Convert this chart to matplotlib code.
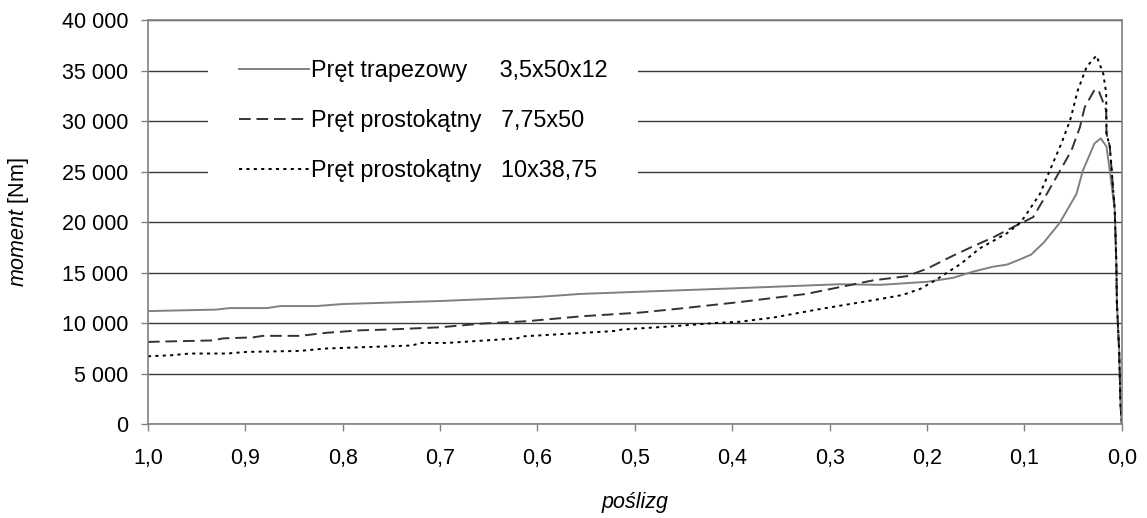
import numpy as np
import matplotlib
matplotlib.use('Agg')
import matplotlib.pyplot as plt
from matplotlib.ticker import FuncFormatter

plt.rcParams['font.family'] = ['Liberation Sans', 'DejaVu Sans']
plt.rcParams['mathtext.fontset'] = 'custom'
plt.rcParams['mathtext.it'] = 'Liberation Sans:italic'
plt.rcParams['mathtext.rm'] = 'Liberation Sans'

# dane (poślizg, moment w Nm)
s_trap = [1.0, 0.93, 0.916, 0.878, 0.864, 0.827, 0.80, 0.70, 0.60, 0.556, 0.50, 0.40,
          0.29, 0.248, 0.20, 0.173, 0.153, 0.132, 0.118, 0.105, 0.093, 0.08, 0.064,
          0.0465, 0.040, 0.028, 0.0216, 0.0157, 0.0123, 0.0072, 0.0055, 0.005,
          0.0027, 0.0013, 0.0]
m_trap = [11200, 11350, 11500, 11500, 11700, 11700, 11900, 12200, 12600, 12900, 13100,
          13450, 13860, 13800, 14100, 14500, 15100, 15600, 15800, 16300, 16800, 18000,
          19900, 22800, 25100, 27800, 28300, 27500, 25100, 21200, 15600, 12000, 7300,
          2000, 0]

s_prost1 = [1.0, 0.933, 0.923, 0.892, 0.882, 0.844, 0.817, 0.782, 0.755, 0.70, 0.656,
            0.611, 0.553, 0.495, 0.454, 0.392, 0.324, 0.255, 0.221, 0.20, 0.173, 0.153,
            0.132, 0.112, 0.091, 0.077, 0.064, 0.0517, 0.043, 0.038, 0.028, 0.024,
            0.016, 0.0157, 0.0123, 0.0072, 0.0055, 0.005, 0.0027, 0.0013, 0.0]
m_prost1 = [8150, 8300, 8500, 8600, 8750, 8750, 9050, 9300, 9370, 9600, 9970, 10200,
            10700, 11050, 11450, 12100, 12900, 14250, 14650, 15400, 16700, 17600, 18500,
            19500, 20500, 22800, 25000, 27100, 29400, 31400, 33100, 33100, 31100, 28800,
            27500, 21200, 15600, 12000, 7300, 2000, 0]

s_prost2 = [1.0, 0.976, 0.957, 0.919, 0.899, 0.844, 0.817, 0.728, 0.721, 0.693, 0.621,
            0.615, 0.519, 0.514, 0.461, 0.416, 0.392, 0.358, 0.313, 0.279, 0.248, 0.225,
            0.207, 0.194, 0.165, 0.146, 0.118, 0.105, 0.10, 0.084, 0.074, 0.062, 0.053,
            0.045, 0.036, 0.026, 0.019, 0.016, 0.0157, 0.0123, 0.0072, 0.0055, 0.005,
            0.0027, 0.0013, 0.0]
m_prost2 = [6730, 6830, 7000, 7000, 7160, 7260, 7500, 7800, 8050, 8050, 8500, 8700,
            9240, 9370, 9700, 10030, 10150, 10560, 11350, 11900, 12400, 12800, 13400,
            14100, 15900, 17400, 18900, 19900, 20500, 22800, 25100, 27800, 30100, 33100,
            35400, 36500, 34700, 32800, 28800, 27500, 21200, 15600, 12000, 7300, 2000, 0]

labels = ['Pręt trapezowy     3,5x50x12',
          'Pręt prostokątny   7,75x50',
          'Pręt prostokątny   10x38,75']

fs = 15.5

fig = plt.figure(figsize=(11.47, 5.18), dpi=100)
ax = fig.add_axes([0.129, 0.181, 0.849, 0.780])

ax.plot(s_trap, m_trap, color='#808080', lw=1.4, label=labels[0])
ax.plot(s_prost1, m_prost1, color='#333333', lw=1.4, dashes=(6, 3), label=labels[1])
ax.plot(s_prost2, m_prost2, color='black', lw=1.4, dashes=(1.6, 2.2), label=labels[2])

ax.set_xlim(1.0, 0.0)
ax.set_ylim(0, 40000)
ax.set_xticks(np.arange(0, 1.01, 0.1))
ax.set_yticks(np.arange(0, 40001, 5000))
ax.xaxis.set_major_formatter(FuncFormatter(lambda v, p: f'{v:.1f}'.replace('.', ',')))
ax.yaxis.set_major_formatter(FuncFormatter(lambda v, p: f'{int(v):,}'.replace(',', ' ')))

ax.grid(axis='y', color='#3a3a3a', lw=1.0)
ax.set_axisbelow(True)
for sp in ax.spines.values():
    sp.set_color('#808080')
    sp.set_linewidth(1.2)
ax.tick_params(colors='#808080', labelcolor='black', labelsize=fs, length=5, width=1)
ax.tick_params(axis='x', pad=12)
ax.tick_params(axis='y', pad=9)

ax.set_xlabel('poślizg', fontsize=fs, fontstyle='italic', labelpad=17)
ax.set_ylabel(r'$\mathit{moment}$ [Nm]', fontsize=fs, labelpad=22)

leg = ax.legend(loc='upper left', bbox_to_anchor=(0.062, 0.979), frameon=True,
                facecolor='white', edgecolor='none', framealpha=1, fancybox=False,
                fontsize=16.8, handlelength=3.0, handletextpad=0.12,
                labelspacing=1.15, borderpad=1.3, borderaxespad=0)

plt.savefig('out.png', dpi=100)
